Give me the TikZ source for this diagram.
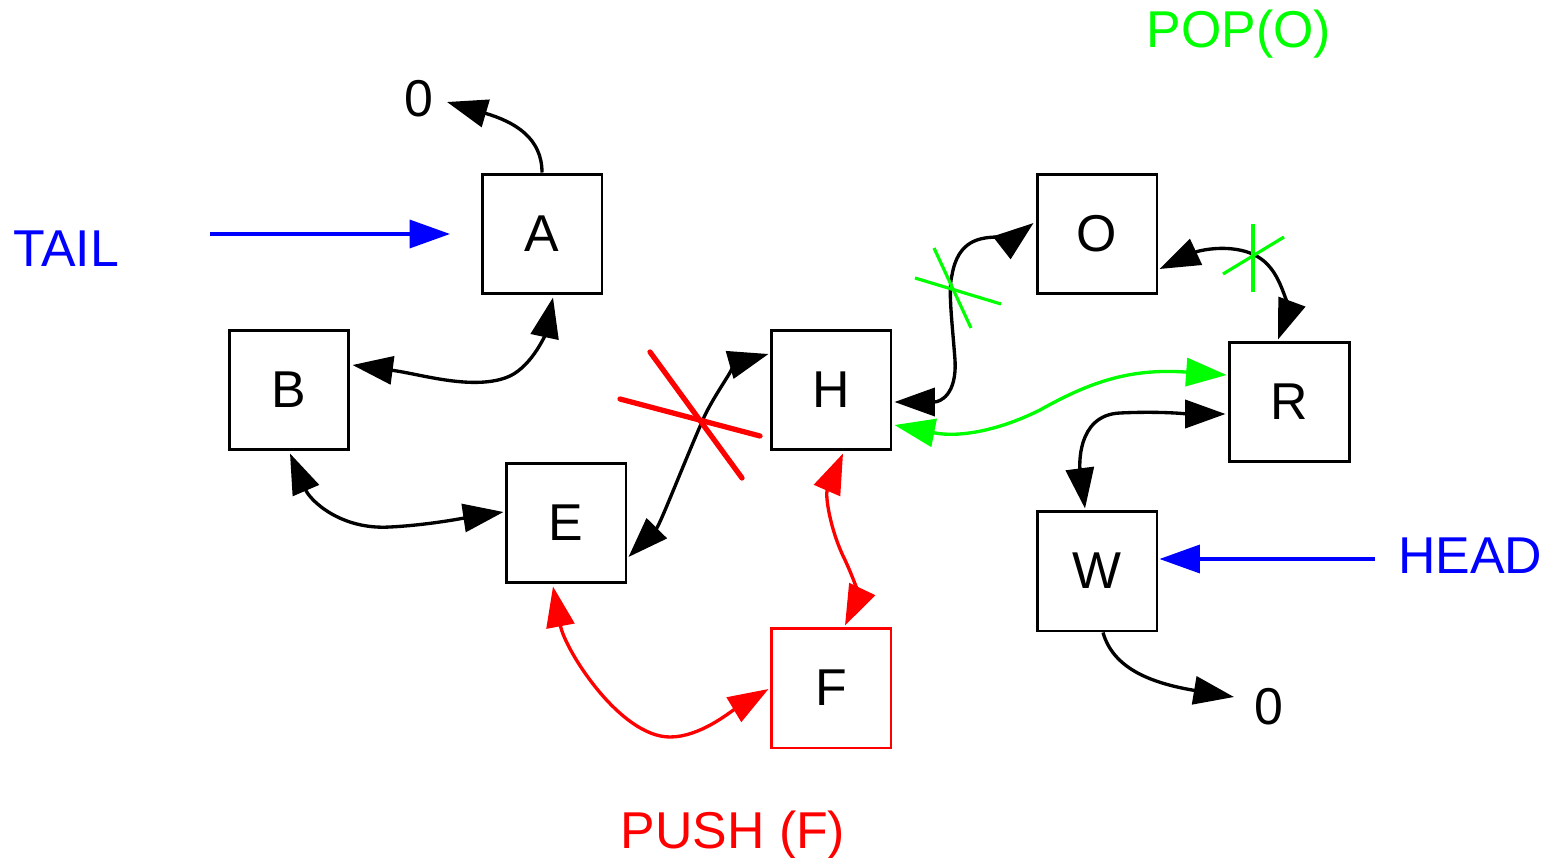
\documentclass[tikz,border=0pt]{standalone}
\usepackage{fontspec}
\setmainfont{Liberation Sans}
\usetikzlibrary{arrows.meta,calc}
\definecolor{pgreen}{RGB}{0,255,0}
\definecolor{pblue}{RGB}{0,0,255}
\definecolor{pred}{RGB}{255,0,0}
\begin{document}
\begin{tikzpicture}[x=0.02cm,y=-0.02cm,
  box/.style={draw, line width=1.7pt, minimum size=2.4cm, inner sep=0pt, font=\fontsize{29.5}{34}\selectfont},
  lbl/.style={inner sep=0pt, anchor=base, font=\fontsize{29.5}{34}\selectfont},
  dbl/.style={line width=1.9pt, {Triangle[length=23pt,width=16pt]}-{Triangle[length=23pt,width=16pt]}},
  sgl/.style={line width=1.9pt, -{Triangle[length=23pt,width=16pt]}},
  ptr/.style={line width=1.8pt, pblue, -{Triangle[length=23pt,width=16pt]}},
  redx/.style={pred, line width=3pt, line cap=round},
  grnx/.style={pgreen, line width=1.8pt},
]
\useasboundingbox (0,0) rectangle (1551,858);
% boxes
\node[box] (A) at (542,234) {A};
\node[box] (B) at (289,390) {B};
\node[box] (E) at (566,523) {E};
\node[box] (H) at (831,390) {H};
\node[box, draw=pred] (F) at (831,688) {F};
\node[box] (O) at (1097,234) {O};
\node[box] (R) at (1289,402) {R};
\node[box] (W) at (1097,571) {W};
% labels
\node[lbl] (zA) at (419,117) {0};
\node[lbl] (zW) at (1269,724) {0};
\node[lbl, text=pblue] (tail) at (66,266) {TAIL};
\node[lbl, text=pblue] (head) at (1470,573) {HEAD};
\node[lbl, text=pgreen] (pop) at (1239,48) {POP(O)};
\node[lbl, text=pred] (push) at (733,848) {PUSH (F)};
% free ends
\coordinate (zAtip) at (447,102);
\coordinate (zWtip) at (1234,697);
\coordinate (tailstart) at (210,234);
\coordinate (tailtip) at (450,234);
\coordinate (headstart) at (1375,559);
% pointers
\draw[ptr] (tailstart) -- (tailtip);
\draw[ptr] (headstart) -- ($(W.east)+(1,-12)$);
\draw[sgl] (A.north) .. controls (542,138) and (515,122) .. (zAtip);
\draw[sgl] ($(W.south)+(6,0)$) .. controls (1113,668) and (1150,683) .. (zWtip);
% black links
\draw[dbl] ($(B.east)+(2,-25)$) .. controls (420,374) and (470,390) .. (505,378)
  .. controls (530,370) and (545,335) .. ($(A.south)+(11,2)$);
\draw[dbl] ($(B.south)+(1,2)$) .. controls (310,500) and (340,530) .. (390,527)
  .. controls (430,525) and (470,517) .. ($(E.west)+(-1,-11)$);
\draw[dbl] ($(E.east)+(1,34)$) .. controls (660,525) and (685,460) .. (705,415)
  .. controls (720,385) and (740,362) .. ($(H.west)+(-1,-36)$);
\draw[dbl] ($(H.east)+(2,12)$) .. controls (940,402) and (957,395) .. (955,360)
  .. controls (952,320) and (948,290) .. (952,275)
  .. controls (958,240) and (980,237) .. (1000,237)
  .. controls (1012,237) and (1022,232) .. ($(O.west)+(-2,-11)$);
\draw[dbl] ($(O.east)+(1,35)$) .. controls (1200,250) and (1245,240) .. (1268,265)
  .. controls (1285,283) and (1287,315) .. ($(R.north)+(-11,-1)$);
\draw[dbl] ($(W.north)+(-12,-1)$) .. controls (1080,470) and (1075,415) .. (1120,413)
  .. controls (1160,411) and (1190,414) .. ($(R.west)+(-2,12)$);
% green link
\draw[dbl, pgreen] ($(H.east)+(2,35)$) .. controls (960,438) and (1000,430) .. (1040,410)
  .. controls (1090,382) and (1130,368) .. ($(R.west)+(-1,-27)$);
% red links
\draw[dbl, pred] ($(H.south)+(12,2)$) .. controls (825,495) and (830,530) .. (845,560)
  .. controls (858,588) and (858,598) .. ($(F.north)+(14,-1)$);
\draw[dbl, pred] ($(E.south)+(-13,2)$) .. controls (565,650) and (620,737) .. (670,737)
  .. controls (700,737) and (730,712) .. ($(F.west)+(-1,1)$);
% crosses
\draw[redx] (650,352) -- (742,478);
\draw[redx] (620,399) -- (760,436);
\draw[grnx] (915,278) -- (1001,304);
\draw[grnx] (934,248) -- (971,328);
\draw[grnx] (1253,224) -- (1253,292);
\draw[grnx] (1223,274) -- (1284,237);
\end{tikzpicture}
\end{document}
